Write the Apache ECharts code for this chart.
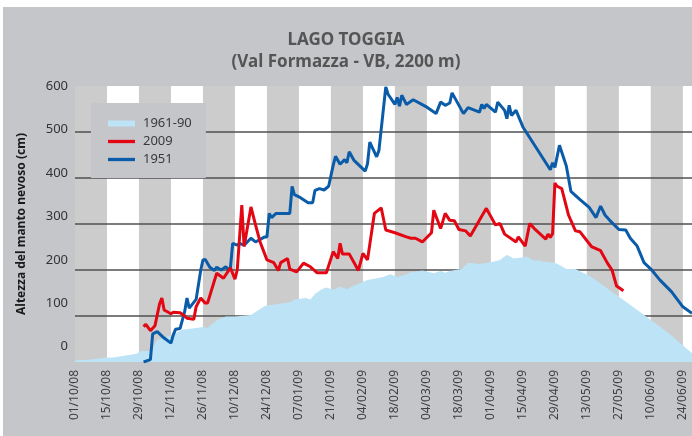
<!DOCTYPE html>
<html>
<head>
<meta charset="utf-8">
<script src="https://cdn.jsdelivr.net/npm/echarts@6/dist/echarts.min.js"></script>
<style>
body { margin: 0; background: #fff; }
#frame { position: absolute; left: 3px; top: 7px; width: 689px; height: 429px; background: #c5c6ca; }
#main { position: absolute; left: 0; top: 0; width: 692px; height: 436px; }
</style>
</head>
<body>
<div id="frame"></div>
<div id="main"></div>
<script>
// etichette asse x, una ogni 14 giorni dal 01/10/08
var tickLabels = ['01/10/08', '15/10/08', '29/10/08', '12/11/08', '26/11/08', '10/12/08', '24/12/08',
    '07/01/09', '21/01/09', '04/02/09', '18/02/09', '04/03/09', '18/03/09', '01/04/09', '15/04/09',
    '29/04/09', '13/05/09', '27/05/09', '10/06/09', '24/06/09'];

// media 1961-90 (giorni dal 01/10/08, cm)
var daysNorm = [0, 6, 14, 16, 27, 29, 33, 36, 42, 47, 53, 56, 58, 62, 66, 70, 77, 83, 94, 96, 101, 103, 105, 108,
    110, 113, 116, 119, 122, 128, 135, 138, 141, 144, 147, 152, 157, 160, 162, 164, 169, 172, 177, 183, 186, 189,
    192, 198, 201, 203, 205, 210, 212, 215, 219, 226, 240, 248, 260, 270];
var snowNorm = [3, 5, 10, 9, 18, 24, 24, 48, 58, 70, 74, 76, 74, 91, 99, 99, 102, 122, 130, 136, 139, 136, 148, 158,
    162, 157, 164, 158, 166, 178, 185, 191, 185, 189, 195, 199, 193, 198, 194, 198, 202, 216, 213, 218, 222, 233,
    225, 229, 220, 222, 218, 216, 211, 202, 202, 185, 135, 106, 62, 19];

// stagione 2009
var days2009 = [30, 31, 33, 35, 37, 38, 39, 42, 43, 46, 48, 49, 52, 53, 55, 57, 58, 62, 65, 68, 70, 71, 73, 74, 77,
    79, 81, 84, 87, 89, 90, 93, 94, 97, 100, 103, 106, 110, 113, 115, 116, 117, 120, 124, 126, 128, 131, 134, 136,
    140, 145, 147, 149, 152, 156, 157, 160, 162, 164, 166, 168, 171, 173, 180, 184, 186, 188, 193, 194, 197, 199,
    201, 206, 207, 208, 209, 210, 211, 213, 216, 219, 221, 226, 230, 233, 235, 237, 240];
var snow2009 = [77, 82, 68, 79, 126, 139, 113, 105, 108, 107, 100, 95, 93, 120, 139, 128, 128, 193, 182, 205, 180, 200,
    341, 251, 337, 298, 261, 222, 216, 199, 216, 225, 202, 196, 215, 207, 194, 194, 240, 225, 258, 235, 235, 199,
    236, 222, 323, 335, 287, 281, 272, 269, 269, 261, 281, 330, 290, 323, 308, 307, 288, 285, 274, 334, 298, 301,
    278, 261, 272, 252, 301, 290, 267, 278, 271, 279, 389, 382, 377, 319, 285, 283, 251, 242, 215, 200, 165, 155];

// stagione 1951
var days1951 = [30, 33, 34, 36, 39, 42, 43, 44, 46, 48, 49, 50, 53, 55, 56, 57, 59, 61, 62, 64, 66, 67, 68, 69, 71,
    72, 74, 77, 79, 83, 84, 85, 86, 88, 94, 95, 96, 98, 102, 104, 105, 107, 109, 111, 113, 114, 116, 118, 119, 120,
    122, 127, 128, 129, 132, 133, 136, 137, 140, 141, 142, 143, 145, 148, 154, 158, 160, 162, 164, 165, 170, 172,
    177, 178, 179, 180, 184, 185, 188, 189, 190, 191, 193, 196, 208, 209, 210, 212, 215, 217, 221, 225, 228, 230,
    232, 234, 238, 241, 243, 246, 249, 252, 256, 261, 266, 270];
var snow1951 = [0, 5, 61, 66, 52, 41, 59, 71, 73, 110, 139, 117, 136, 199, 222, 223, 206, 199, 206, 200, 207, 202,
    204, 258, 254, 258, 254, 269, 261, 272, 272, 323, 314, 323, 323, 382, 364, 359, 346, 346, 373, 377, 374, 382,
    428, 447, 430, 440, 433, 457, 439, 415, 431, 478, 446, 460, 598, 582, 560, 575, 556, 580, 560, 570, 554, 540,
    565, 558, 563, 585, 540, 553, 543, 560, 551, 560, 543, 565, 547, 529, 558, 536, 547, 511, 418, 433, 423, 471,
    426, 371, 353, 336, 314, 339, 319, 308, 288, 287, 269, 252, 216, 202, 178, 153, 120, 106];

var yLabels = [0, 100, 200, 300, 400, 500, 600];

function pairs(days, vals) {
    return days.map(function (d, i) { return [d, vals[i]]; });
}

var font = 'Noto Sans';
var lineIcon = 'path://M0,0H27V3.3H0Z';
var myChart = echarts.init(document.getElementById('main'));
var option = {
    animation: false,
    title: {
        text: 'LAGO TOGGIA\n(Val Formazza - VB, 2200 m)',
        left: 'center',
        top: 24,
        padding: [5, 0, 5, 6],
        textStyle: { fontFamily: font, fontSize: 17, fontWeight: 'bold', color: '#555', lineHeight: 22 }
    },
    legend: {
        orient: 'vertical',
        left: 91,
        top: 103,
        padding: [14, 14, 12, 17],
        itemGap: 5,
        itemWidth: 27,
        itemHeight: 6,
        backgroundColor: '#c5c6ca',
        textStyle: { fontFamily: font, fontSize: 13, color: '#3a3a3a', padding: [0, 0, 0, 3] },
        data: [{ name: '1961-90', icon: 'rect' }, { name: '2009', icon: lineIcon }, { name: '1951', icon: lineIcon }]
    },
    grid: { left: 75, right: 0, top: 86, bottom: 74 },
    xAxis: {
        type: 'value',
        min: 0,
        max: 270,
        interval: 14,
        z: 0,
        axisLine: { show: false },
        axisTick: { show: false },
        splitLine: { show: false },
        splitArea: { show: true, areaStyle: { color: ['#cccccc', '#ffffff'] } },
        axisLabel: {
            rotate: 90,
            margin: 8,
            fontFamily: font,
            fontSize: 12,
            color: '#404040',
            showMaxLabel: false,
            formatter: function (v) { return tickLabels[Math.round(v / 14)] || ''; }
        }
    },
    yAxis: [{
        type: 'value',
        min: 0,
        max: 600,
        interval: 100,
        z: 1,
        name: 'Altezza del manto nevoso (cm)',
        nameLocation: 'middle',
        nameGap: 47,
        nameTextStyle: { fontFamily: font, fontSize: 12, fontWeight: 'bold', color: '#1a1a1a' },
        axisLine: { show: false },
        axisTick: { show: false },
        axisLabel: { show: false },
        splitLine: { show: true, showMinLine: false, showMaxLine: false, lineStyle: { color: '#505050', width: 1.5 } }
    }, {
        // le etichette dell'originale non coincidono con le linee
        type: 'value',
        min: -35,
        max: 600,
        position: 'left',
        axisLine: { show: false },
        axisTick: { show: false },
        splitLine: { show: false },
        axisLabel: { customValues: yLabels, margin: 7, fontFamily: font, fontSize: 13, color: '#333' }
    }],
    series: [{
        name: '1961-90',
        type: 'line',
        data: pairs(daysNorm, snowNorm),
        symbol: 'none',
        lineStyle: { width: 0 },
        itemStyle: { color: '#bde3f6' },
        areaStyle: { color: '#bde3f6', opacity: 1 },
        z: 3
    }, {
        name: '1951',
        type: 'line',
        data: pairs(days1951, snow1951),
        symbol: 'none',
        lineStyle: { width: 3, color: '#0a5ca8' },
        itemStyle: { color: '#0a5ca8' },
        z: 4
    }, {
        name: '2009',
        type: 'line',
        data: pairs(days2009, snow2009),
        symbol: 'none',
        lineStyle: { width: 3, color: '#e30613' },
        itemStyle: { color: '#e30613' },
        z: 5
    }]
};
option && myChart.setOption(option);
</script>
</body>
</html>
